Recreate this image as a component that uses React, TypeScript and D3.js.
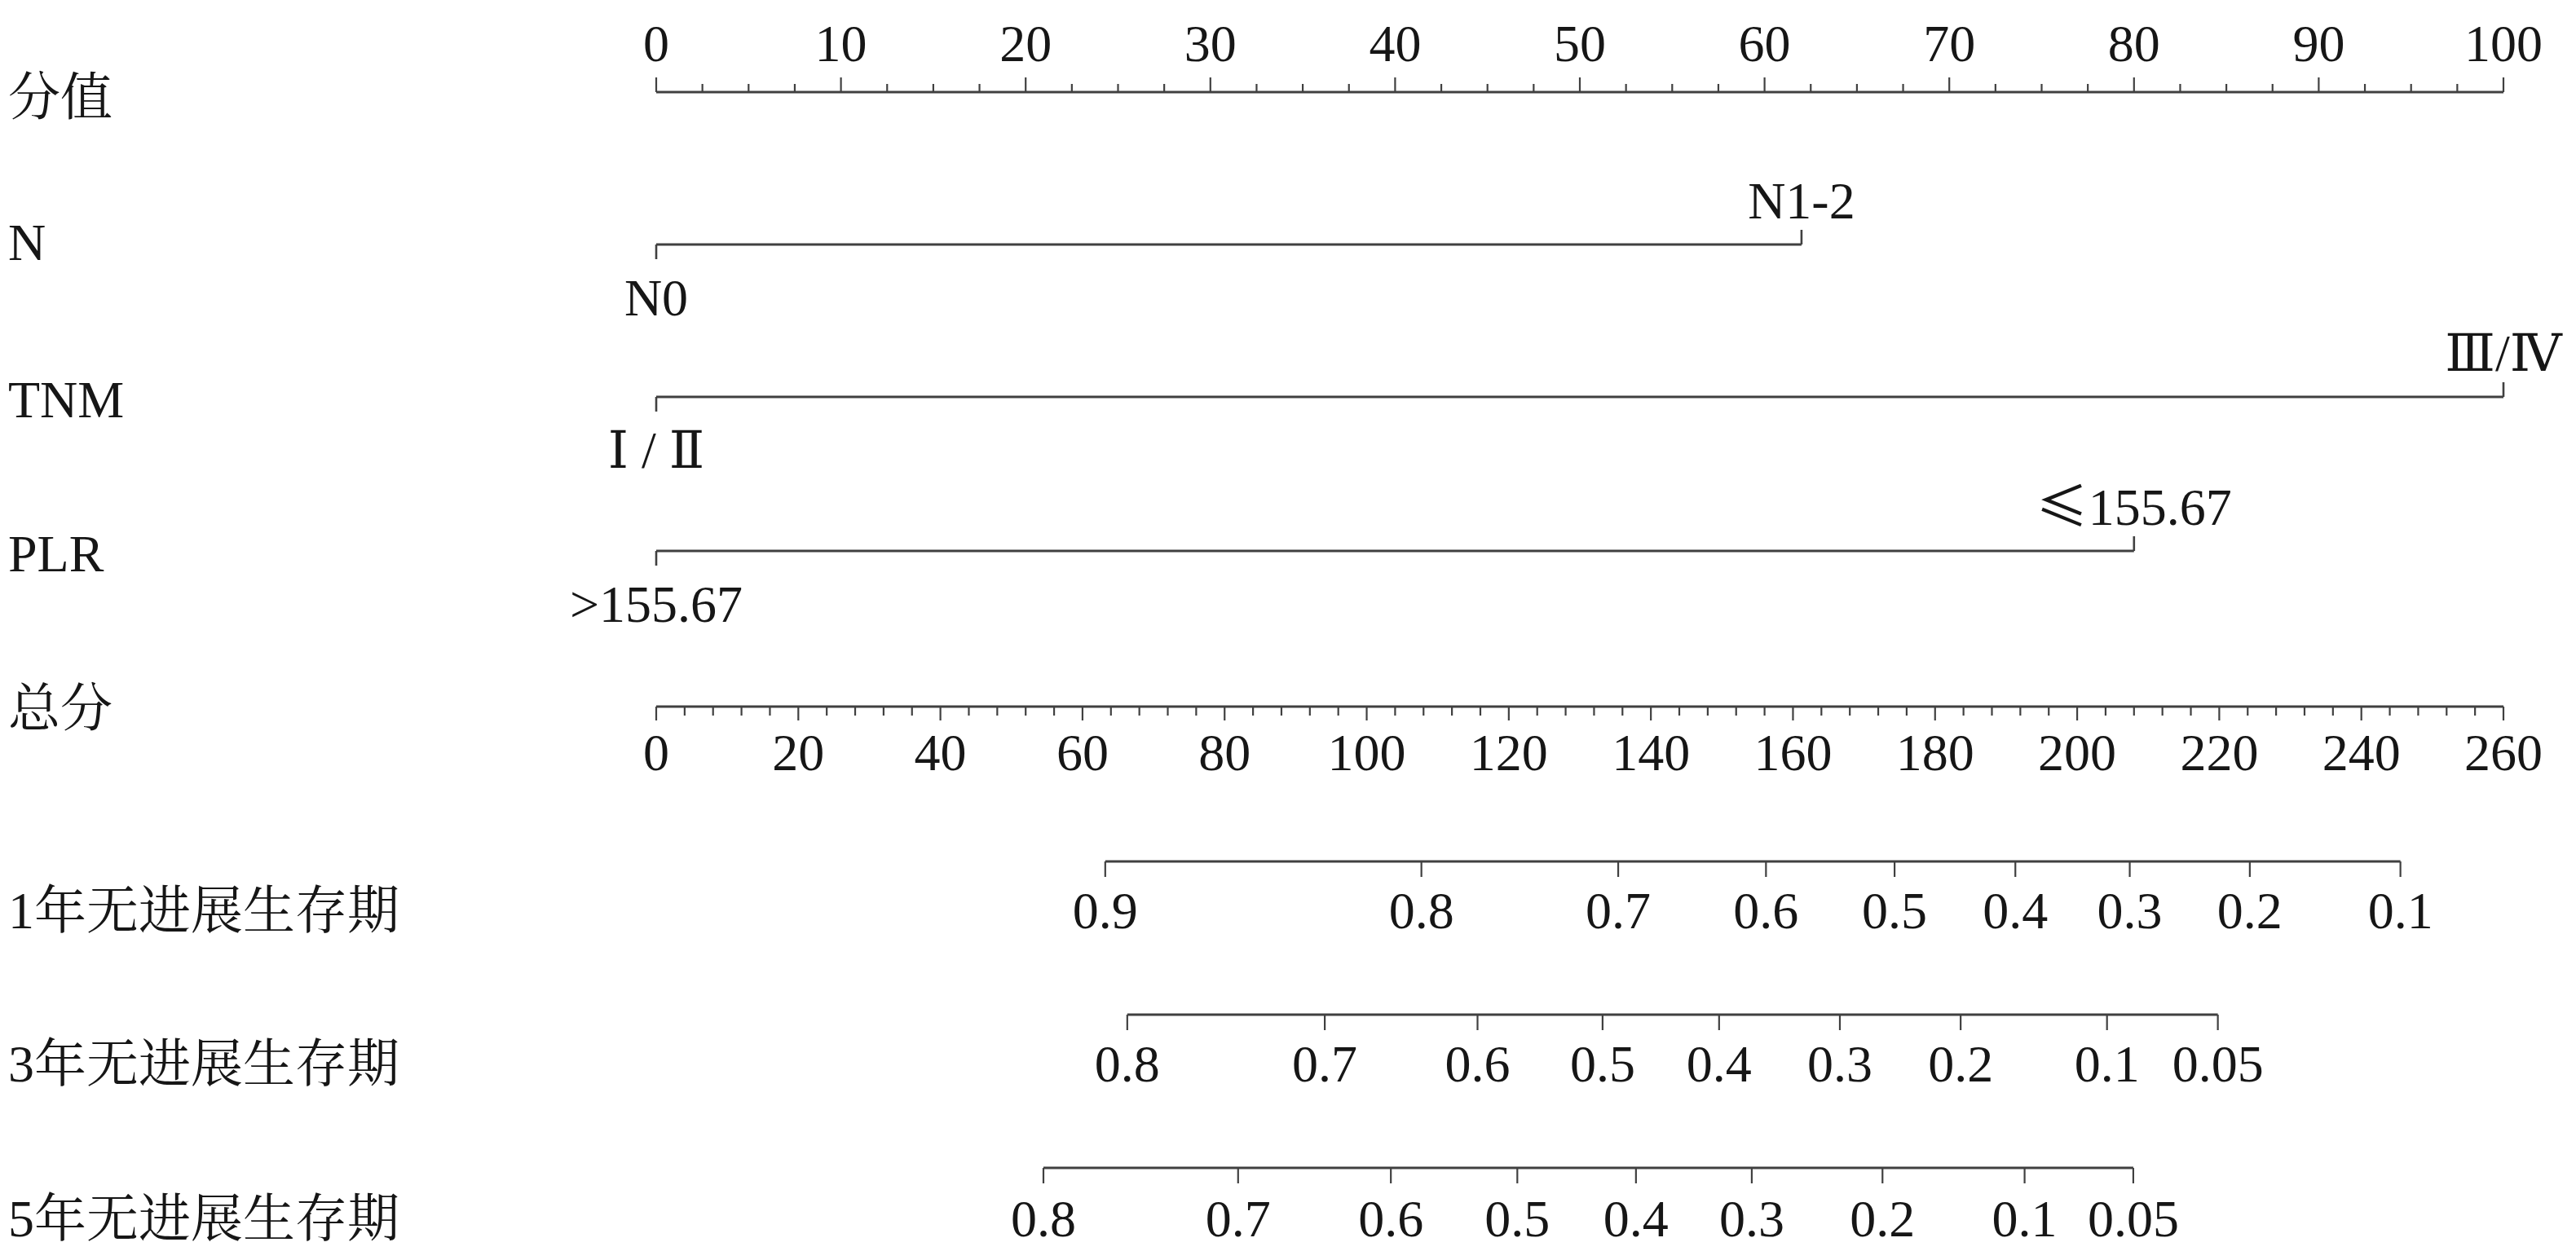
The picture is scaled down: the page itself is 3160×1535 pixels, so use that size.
import React from "react";
import * as d3 from "d3";

const W = 3160;
const H = 1535;

// ---- data ----
const pointTicks = [0, 10, 20, 30, 40, 50, 60, 70, 80, 90, 100];
const totalTicks = [0, 20, 40, 60, 80, 100, 120, 140, 160, 180, 200, 220, 240, 260];

const rowLabels = ["分值", "N", "TNM", "PLR", "总分", "1年无进展生存期", "3年无进展生存期", "5年无进展生存期"];

const nLevels = ["N0", "N1-2"];
const nPoints = [0, 62];
const tnmLevels = ["Ⅰ / Ⅱ", "Ⅲ/Ⅳ"];
const tnmPoints = [0, 100];
const plrLevels = [">155.67", "≤155.67"];
const plrPoints = [0, 80];

const surv1Labels = ["0.9", "0.8", "0.7", "0.6", "0.5", "0.4", "0.3", "0.2", "0.1"];
const surv1Total = [63.2, 107.7, 135.4, 156.2, 174.3, 191.3, 207.4, 224.3, 245.5];
const surv3Labels = ["0.8", "0.7", "0.6", "0.5", "0.4", "0.3", "0.2", "0.1", "0.05"];
const surv3Total = [66.3, 94.1, 115.6, 133.2, 149.6, 166.6, 183.6, 204.2, 219.8];
const surv5Labels = ["0.8", "0.7", "0.6", "0.5", "0.4", "0.3", "0.2", "0.1", "0.05"];
const surv5Total = [54.5, 81.9, 103.4, 121.2, 137.9, 154.2, 172.6, 192.6, 207.9];

const FONT = "'Times New Roman', 'Liberation Serif', 'DejaVu Serif', 'Noto Serif CJK SC', 'Noto Sans CJK SC', serif";
const SYMFONT = "'Noto Sans CJK SC', 'DejaVu Serif', serif";
const FS = 64;
const LINE = "#404040";
const TXT = "#161616";

function LevelText({ s }: { s: string }) {
  if (s.startsWith("≤")) {
    return (
      <>
        <tspan fontFamily={SYMFONT}>≤</tspan>
        <tspan>{s.slice(1)}</tspan>
      </>
    );
  }
  return <>{s}</>;
}

export default function App() {
  const xPts = d3.scaleLinear().domain([0, 100]).range([805, 3071]);
  const xTot = d3.scaleLinear().domain([0, 260]).range([805, 3071]);

  const ptsMinor = d3.range(0, 100.001, 2.5).filter((v) => !pointTicks.includes(v));
  const totMinor = d3.range(0, 260.001, 4).filter((v) => !totalTicks.includes(v));

  const textProps = { fontFamily: FONT, fontSize: FS, fill: TXT };

  const vars = [
    { y: 300, levels: nLevels, pts: nPoints },
    { y: 487, levels: tnmLevels, pts: tnmPoints },
    { y: 676, levels: plrLevels, pts: plrPoints },
  ];

  const survRows = [
    { y: 1057, base: 1139, labels: surv1Labels, tot: surv1Total },
    { y: 1245, base: 1327, labels: surv3Labels, tot: surv3Total },
    { y: 1433, base: 1517, labels: surv5Labels, tot: surv5Total },
  ];

  const leftBaselines = [141, 319, 512, 701, 891, 1139, 1327, 1517];

  const ptsY = 113;
  const totY = 867;

  return (
    <svg
      width={W}
      height={H}
      style={{ position: "absolute", left: 0, top: 0, background: "#fff" }}
    >
      <rect x={0} y={0} width={W} height={H} fill="#fff" />
      {rowLabels.map((l, i) => (
        <text key={l} x={10} y={leftBaselines[i]} {...textProps}>
          {l}
        </text>
      ))}

      {/* points axis */}
      <line x1={xPts(0)} x2={xPts(100)} y1={ptsY} y2={ptsY} stroke={LINE} strokeWidth={3.2} />
      {pointTicks.map((v) => (
        <g key={"pt" + v}>
          <line x1={xPts(v)} x2={xPts(v)} y1={ptsY} y2={ptsY - 18} stroke={LINE} strokeWidth={2.2} />
          <text x={xPts(v)} y={75} textAnchor="middle" {...textProps}>
            {v}
          </text>
        </g>
      ))}
      {ptsMinor.map((v) => (
        <line key={"pm" + v} x1={xPts(v)} x2={xPts(v)} y1={ptsY} y2={ptsY - 10} stroke={LINE} strokeWidth={2.2} />
      ))}

      {/* variable rows */}
      {vars.map((r, ri) => (
        <g key={"var" + ri}>
          <line
            x1={xPts(d3.min(r.pts) as number)}
            x2={xPts(d3.max(r.pts) as number)}
            y1={r.y}
            y2={r.y}
            stroke={LINE}
            strokeWidth={3.2}
          />
          {r.levels.map((lev, i) => {
            const up = i % 2 === 1;
            const x = xPts(r.pts[i]);
            return (
              <g key={lev}>
                <line x1={x} x2={x} y1={r.y} y2={up ? r.y - 18 : r.y + 18} stroke={LINE} strokeWidth={2.6} />
                <text x={x} y={up ? r.y - 32 : r.y + 87} textAnchor="middle" {...textProps}>
                  <LevelText s={lev} />
                </text>
              </g>
            );
          })}
        </g>
      ))}

      {/* total points axis */}
      <line x1={xTot(0)} x2={xTot(260)} y1={totY} y2={totY} stroke={LINE} strokeWidth={3.2} />
      {totalTicks.map((v) => (
        <g key={"tt" + v}>
          <line x1={xTot(v)} x2={xTot(v)} y1={totY} y2={totY + 17} stroke={LINE} strokeWidth={2.2} />
          <text x={xTot(v)} y={945} textAnchor="middle" {...textProps}>
            {v}
          </text>
        </g>
      ))}
      {totMinor.map((v) => (
        <line key={"tm" + v} x1={xTot(v)} x2={xTot(v)} y1={totY} y2={totY + 11} stroke={LINE} strokeWidth={2.2} />
      ))}

      {/* survival axes */}
      {survRows.map((r, ri) => (
        <g key={"s" + ri}>
          <line
            x1={xTot(d3.min(r.tot) as number)}
            x2={xTot(d3.max(r.tot) as number)}
            y1={r.y}
            y2={r.y}
            stroke={LINE}
            strokeWidth={3.2}
          />
          {r.tot.map((t, i) => (
            <g key={"st" + i}>
              <line x1={xTot(t)} x2={xTot(t)} y1={r.y} y2={r.y + 19} stroke={LINE} strokeWidth={2.2} />
              <text x={xTot(t)} y={r.base} textAnchor="middle" {...textProps}>
                {r.labels[i]}
              </text>
            </g>
          ))}
        </g>
      ))}
    </svg>
  );
}
